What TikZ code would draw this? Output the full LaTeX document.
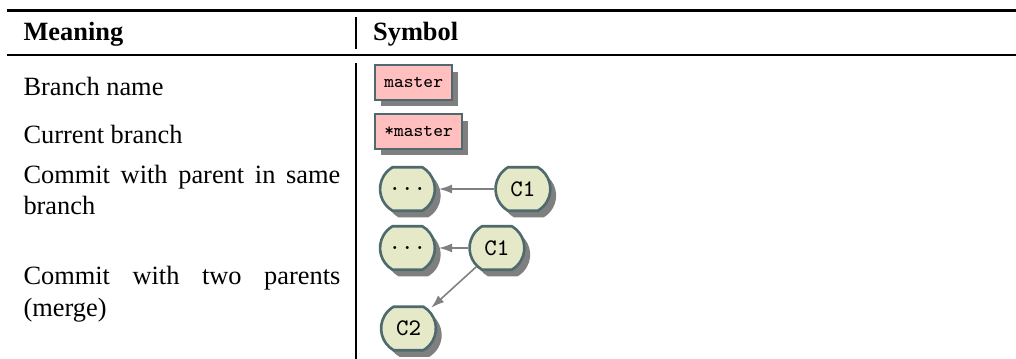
\documentclass[tikz,border=0pt]{standalone}
\usepackage{fontspec}
\setmainfont{Liberation Serif}
\usetikzlibrary{shapes.misc,shadows}
\usetikzlibrary{arrows.meta}
\definecolor{branchpink}{HTML}{FFBFBF}
\definecolor{commitbeige}{HTML}{E6E9C8}
\definecolor{slateedge}{HTML}{4F6A6F}
\definecolor{arrowgray}{HTML}{808080}
\tikzset{
  tabrule/.style={line width=1pt},
  meaning/.style={anchor=base west,text width=4.22cm,align=justify,inner sep=0pt},
  branchbox/.style={draw=slateedge,fill=branchpink,line width=0.8pt,anchor=west,
    font=\ttfamily\scriptsize,inner xsep=3.5pt,minimum height=13pt,
    drop shadow={shadow xshift=2.2pt,shadow yshift=-2.5pt,fill=black,opacity=0.5}},
  commit/.style={rounded rectangle,rounded rectangle arc length=120,
    draw=slateedge,fill=commitbeige,line width=1pt,font=\ttfamily\small,
    minimum width=0.8cm,minimum height=0.58cm,inner sep=1pt,
    drop shadow={shadow xshift=2.2pt,shadow yshift=-2.5pt,fill=black,opacity=0.5}},
  parentarrow/.style={-{Latex[length=5pt,width=3.4pt]},draw=arrowgray,line width=0.6pt,shorten >=1pt}
}
\begin{document}
\begin{tikzpicture}
\useasboundingbox (0,0) rectangle (13.53,-4.78);
\draw[tabrule] (0.093,-0.14) -- (13.53,-0.14); % top rule
\draw[tabrule] (0.093,-0.732) -- (13.53,-0.732); % mid rule
\draw[tabrule] (4.74,-0.226) -- (4.74,-0.652);
\draw[tabrule] (4.74,-0.839) -- (4.74,-4.78);
\node[anchor=base west,inner sep=0pt] (hmeaning) at (0.306,-0.533) {\textbf{Meaning}};
\node[anchor=base west,inner sep=0pt] (hsymbol) at (4.962,-0.533) {\textbf{Symbol}};
% meanings
\node[meaning] (mbranch) at (0.306,-1.265) {Branch name};
\node[meaning] (mcurrent) at (0.306,-1.917) {Current branch};
\node[meaning] (mparent) at (0.306,-2.437) {Commit with parent in same branch};
\node[meaning] (mmerge) at (0.306,-3.795) {Commit with two parents (merge)};
% symbols
\node[branchbox] (branch) at (4.98,-1.098) {master};
\node[branchbox] (curbranch) at (4.98,-1.751) {*master};
\node[commit] (dotsa) at (5.426,-2.517) {...};
\node[commit] (cia) at (6.964,-2.517) {C1};
\node[commit] (dotsb) at (5.426,-3.302) {...};
\node[commit] (cib) at (6.618,-3.302) {C1};
\node[commit] (cii) at (5.44,-4.374) {C2};
\draw[parentarrow] (cia) -- (dotsa);
\draw[parentarrow] (cib) -- (dotsb);
\draw[parentarrow] (cib) -- (cii);
\end{tikzpicture}
\end{document}
